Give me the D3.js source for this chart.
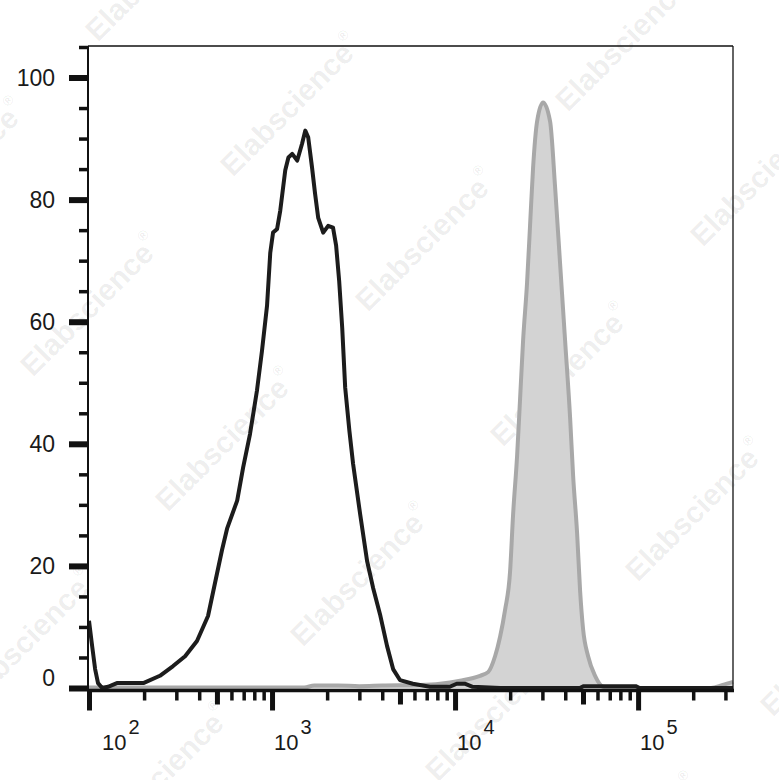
<!DOCTYPE html>
<html><head><meta charset="utf-8">
<script src="https://cdn.jsdelivr.net/npm/d3@7"></script>
<style>body{margin:0;background:#fff}svg{display:block}</style>
</head><body>
<svg id="chart" width="779" height="780"></svg>
<script>
// ---- data (x = fluorescence intensity, y = % of max) ----
const blackIntensity = [100, 104, 108, 112, 118, 127, 142, 198, 244, 288, 335, 389, 447, 488, 533, 568, 645, 695, 758, 827, 881, 939, 978, 1013, 1066, 1109, 1181, 1229, 1289, 1373, 1460, 1519, 1576, 1655, 1718, 1788, 1903, 2026, 2154, 2239, 2327, 2418, 2510, 2647, 2773, 3029, 3306, 3567, 3889, 4249, 4587, 4999, 5882, 7284, 9356, 10216, 11290, 12480, 17660, 48000, 50500, 97000, 102000, 330000];
const blackPercent   = [11.0, 6.9, 3.1, 0.8, 0, 0.2, 0.8, 0.8, 2.0, 3.6, 5.2, 7.7, 11.8, 17.2, 22.6, 26.1, 30.7, 36.1, 41.6, 48.7, 55.2, 62.6, 71.3, 74.6, 75.2, 78.2, 84.8, 86.9, 87.5, 86.4, 89.2, 91.3, 90.2, 85.2, 81.0, 77.0, 74.6, 75.7, 75.4, 72.5, 66.7, 59.0, 49.2, 42.1, 36.7, 28.5, 20.8, 16.4, 12.1, 6.9, 3.1, 1.3, 0.7, 0.2, 0.2, 0.7, 0.7, 0.2, 0, 0, 0.3, 0.3, 0, 0];

const grayIntensity = [100, 1500, 1700, 2300, 3000, 4000, 6437, 8280, 10650, 13690, 15150, 16540, 17620, 18760, 19970, 20750, 21820, 22660, 23530, 24740, 25690, 26680, 28060, 30260, 33050, 35190, 37480, 39920, 42510, 44150, 46420, 48210, 50070, 53320, 58210, 64380, 72090, 250000, 290000, 330000];
const grayPercent   = [0.1, 0.1, 0.4, 0.4, 0.3, 0.4, 0.5, 0.7, 1.2, 2.0, 2.6, 5.2, 8.4, 12.8, 19.0, 28.4, 38.0, 47.4, 56.9, 66.4, 75.8, 85.2, 92.8, 95.9, 92.8, 82.1, 69.5, 56.9, 44.3, 34.8, 25.4, 15.9, 9.6, 5.2, 2.0, 0.2, 0, 0, 0.5, 1.0];

const yMajorTicks = [0, 20, 40, 60, 80, 100];
const yMinorTicks = [5, 10, 15, 25, 30, 35, 45, 50, 55, 65, 70, 75, 85, 90, 95, 105];
const xMajorTicks = [1e2, 1e3, 1e4, 1e5];
const xTickBase = ["10", "10", "10", "10"];
const xTickExp = ["2", "3", "4", "5"];
const watermarkText = "Elabscience";

(function () {
// ---- layout ----
const svg = d3.select("#chart");
const pL = 88, pR = 733, pT = 46, pB = 688;
const x = d3.scaleLog().domain([100, 330000]).range([89, 733]);
const y = d3.scaleLinear().domain([0, 105]).range([pB, 47]);
const font = "'Liberation Sans', Arial, sans-serif";

// ---- watermarks ----
const wm = svg.append("g").attr("fill", "#000").attr("fill-opacity", 0.075)
  .style("font-family", font).style("font-weight", "bold").style("font-size", "30px");
const wmCenters = [];
const origin = [290, 105], u = [135, 135], v = [-65, 335];
for (let i = -3; i <= 4; i++) for (let j = -2; j <= 3; j++) {
  const cx = origin[0] + i * u[0] + j * v[0], cy = origin[1] + i * u[1] + j * v[1];
  if (cx > -120 && cx < 900 && cy > -120 && cy < 900) wmCenters.push([cx, cy]);
}
wmCenters.forEach(c => {
  const t = wm.append("text").attr("text-anchor", "middle").attr("dominant-baseline", "central")
    .attr("transform", `translate(${c[0]},${c[1]}) rotate(-45)`);
  t.append("tspan").text(watermarkText);
  t.append("tspan").attr("font-size", "14px").attr("dy", "-12").text("®");
});

// ---- curves ----
const grayData = grayIntensity.map((d, i) => [d, grayPercent[i]]);
const blackData = blackIntensity.map((d, i) => [d, blackPercent[i]]);

svg.append("path").datum(grayData)
  .attr("d", d3.area().x(d => x(d[0])).y0(y(0)).y1(d => y(d[1])).curve(d3.curveMonotoneX))
  .attr("fill", "#d3d3d3");
svg.append("path").datum(grayData)
  .attr("d", d3.line().x(d => x(d[0])).y(d => y(d[1])).curve(d3.curveMonotoneX))
  .attr("fill", "none").attr("stroke", "#a8a8a8").attr("stroke-width", 4).attr("stroke-linejoin", "round");

svg.append("path").datum(blackData)
  .attr("d", d3.line().x(d => x(d[0])).y(d => y(d[1])))
  .attr("fill", "none").attr("stroke", "#1c1c1c").attr("stroke-width", 4).attr("stroke-linejoin", "round");

// ---- frame ----
svg.append("line").attr("x1", pL).attr("x2", pR).attr("y1", pT).attr("y2", pT).attr("stroke", "#111").attr("stroke-width", 1.3);
svg.append("line").attr("x1", pR).attr("x2", pR).attr("y1", pT).attr("y2", pB + 2).attr("stroke", "#111").attr("stroke-width", 1.3);

// ---- y axis ----
const yMajor = svg.append("g").attr("transform", `translate(${pL},0)`)
  .call(d3.axisLeft(y).tickValues(yMajorTicks).tickSize(19).tickFormat(""));
yMajor.select(".domain").remove();
yMajor.selectAll(".tick line").attr("stroke", "#111").attr("stroke-width", 6);
const yMinor = svg.append("g").attr("transform", `translate(${pL},0)`)
  .call(d3.axisLeft(y).tickValues(yMinorTicks).tickSize(9).tickFormat(""));
yMinor.select(".domain").remove();
yMinor.selectAll(".tick line").attr("stroke", "#111").attr("stroke-width", 3.5);
svg.append("line").attr("x1", pL).attr("x2", pL).attr("y1", pT).attr("y2", pB + 4).attr("stroke", "#111").attr("stroke-width", 2);

svg.append("g").selectAll("text").data(yMajorTicks).join("text")
  .attr("x", 55).attr("y", d => y(d) + (d === 0 ? -10 : 0)).attr("dy", "0.35em")
  .attr("text-anchor", "end").style("font-family", font).style("font-size", "23px").attr("fill", "#1a1a1a")
  .text(d => d);

// ---- x axis ----
const axisY = pB + 2.5;
const xTicksAll = x.ticks().filter(t => t >= 100 && t <= 330000);
const lead = t => Math.round(t / Math.pow(10, Math.floor(Math.log10(t) + 1e-9)));
const xMinor = svg.append("g").attr("transform", `translate(0,${axisY})`)
  .call(d3.axisBottom(x).tickValues(xTicksAll.filter(t => lead(t) !== 1)).tickSize(10).tickFormat(""));
xMinor.select(".domain").remove();
xMinor.selectAll(".tick line").attr("stroke", "#111")
  .attr("stroke-width", d => lead(d) === 5 ? 5 : 3.5)
  .attr("y2", d => lead(d) === 5 ? 14 : 10);
const xMaj = svg.append("g").attr("transform", `translate(0,${axisY})`)
  .call(d3.axisBottom(x).tickValues(xMajorTicks).tickSize(20).tickFormat(""));
xMaj.select(".domain").remove();
xMaj.selectAll(".tick line").attr("stroke", "#111").attr("stroke-width", 5);
svg.append("line").attr("x1", pL).attr("x2", pR + 1).attr("y1", axisY).attr("y2", axisY).attr("stroke", "#111").attr("stroke-width", 3.5);

const xl = svg.append("g").selectAll("text").data(xMajorTicks).join("text")
  .attr("x", (d, i) => x(d) + (i === 0 ? 13 : 2)).attr("y", 750)
  .style("font-family", font).style("font-size", "22px").attr("fill", "#1a1a1a");
xl.append("tspan").text((d, i) => xTickBase[i]);
xl.append("tspan").attr("dx", 2).attr("dy", -16).style("font-size", "20px").text((d, i) => xTickExp[i]);
})();
</script>
</body></html>
